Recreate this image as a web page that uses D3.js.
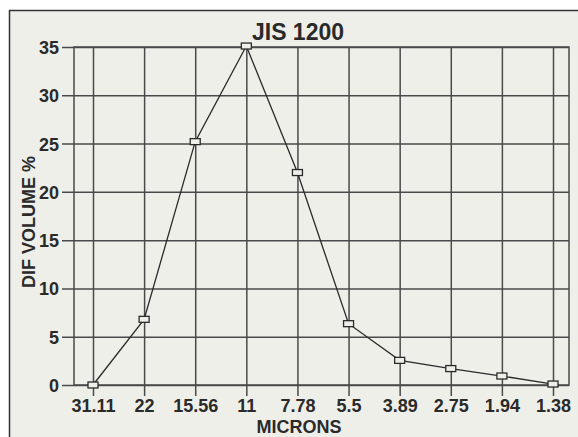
<!DOCTYPE html>
<html><head><meta charset="utf-8">
<script src="https://cdn.jsdelivr.net/npm/d3@7"></script>
<style>html,body{margin:0;padding:0;background:#fff;}svg{display:block;}</style>
</head><body>
<script>
const categories = ["31.11","22","15.56","11","7.78","5.5","3.89","2.75","1.94","1.38"];
const difVolume = [0, 6.8, 25.2, 35.1, 22.0, 6.35, 2.55, 1.7, 0.93, 0.1];
const yTicks = [0,5,10,15,20,25,30,35];
const title = "JIS 1200";
const xLabel = "MICRONS";
const yLabel = "DIF VOLUME %";

const W = 578, H = 437;
const frame = {left:74, right:569, top:47, bottom:385};
const svg = d3.select("body").append("svg").attr("width",W).attr("height",H);
const font = "'Liberation Sans', Arial, Helvetica, sans-serif";
const gridColor = "#4a4a4a";

svg.append("rect").attr("x",9).attr("y",10).attr("width",W-9).attr("height",H-10).attr("fill","#efefea");
svg.append("line").attr("x1",9).attr("x2",W).attr("y1",10.5).attr("y2",10.5).attr("stroke","#333").attr("stroke-width",1.5);
svg.append("line").attr("x1",9.5).attr("x2",9.5).attr("y1",10).attr("y2",H).attr("stroke","#333").attr("stroke-width",1.5);

const x = d3.scalePoint().domain(categories).range([93,553]);
const y = d3.scaleLinear().domain([0,35]).range([frame.bottom, frame.top]);

// horizontal grid + ticks
const yAxis = d3.axisLeft(y).tickValues(yTicks).tickSize(frame.right - 62).tickPadding(3).tickSizeOuter(0);
const gy = svg.append("g").attr("transform",`translate(${frame.right},0)`).call(yAxis);
gy.select(".domain").remove();
gy.selectAll(".tick line").attr("stroke",gridColor).attr("stroke-width",1.5);
gy.selectAll(".tick text").attr("font-family",font).attr("font-weight","bold").attr("font-size",18).attr("fill","#2a2a2a").attr("dy","0.36em");

// vertical grid + ticks
const xAxis = d3.axisBottom(x).tickSize(frame.bottom - frame.top + 11).tickPadding(2).tickSizeOuter(0);
const gx = svg.append("g").attr("transform",`translate(0,${frame.top})`).call(xAxis);
gx.select(".domain").remove();
gx.selectAll(".tick line").attr("stroke",gridColor).attr("stroke-width",1.5);
gx.selectAll(".tick text").attr("font-family",font).attr("font-weight","bold").attr("font-size",18).attr("fill","#2a2a2a").attr("dy","0.76em");

// frame
svg.append("rect").attr("x",frame.left).attr("y",frame.top).attr("width",frame.right-frame.left).attr("height",frame.bottom-frame.top)
  .attr("fill","none").attr("stroke",gridColor).attr("stroke-width",1.5);

// line
const line = d3.line().x((d,i)=>x(categories[i])).y(d=>y(d));
svg.append("path").datum(difVolume).attr("d",line).attr("fill","none").attr("stroke","#2a2a2a").attr("stroke-width",1.3);

svg.selectAll("rect.mk").data(difVolume).enter().append("rect").attr("class","mk")
  .attr("x",(d,i)=>x(categories[i])-5).attr("y",d=>y(d)-3).attr("width",10).attr("height",6)
  .attr("fill","#efefea").attr("stroke","#2a2a2a").attr("stroke-width",1.3);

svg.append("text").attr("x",298).attr("y",40).attr("text-anchor","middle").attr("font-family",font)
  .attr("font-weight","bold").attr("font-size",23).attr("fill","#2a2a2a").text(title);
svg.append("text").attr("x",299).attr("y",433).attr("text-anchor","middle").attr("font-family",font)
  .attr("font-weight","bold").attr("font-size",18).attr("fill","#2a2a2a").text(xLabel);
svg.append("text").attr("transform","translate(35,222) rotate(-90)").attr("text-anchor","middle").attr("font-family",font)
  .attr("font-weight","bold").attr("font-size",18).attr("fill","#2a2a2a").text(yLabel);
</script>
</body></html>
